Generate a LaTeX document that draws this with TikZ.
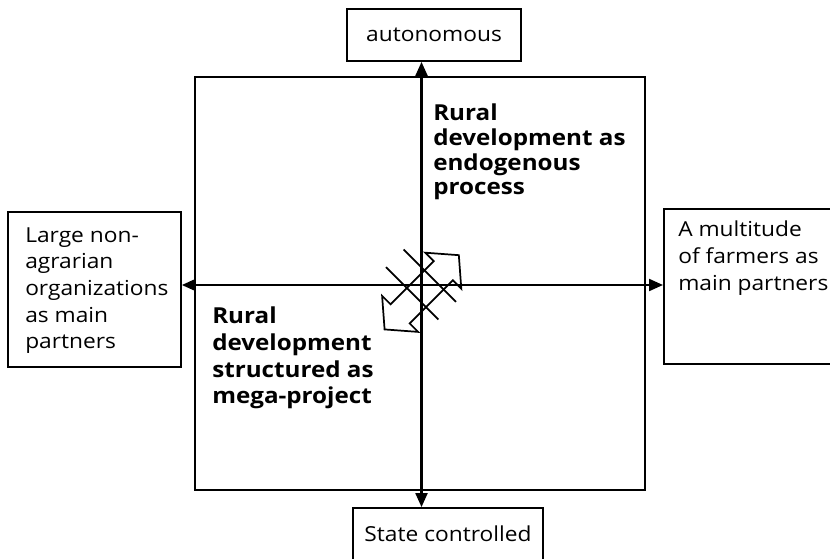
\documentclass[tikz,border=0pt]{standalone}
\usepackage{fontspec}
\setmainfont{Open Sans}[FakeStretch=1.1]
\usetikzlibrary{arrows.meta}

\begin{document}
\begin{tikzpicture}[x=0.75pt,y=0.75pt,yscale=-1,xscale=1,
  box/.style={draw,line width=1.4pt,inner sep=0pt},
  plain/.style={inner sep=0pt,anchor=north west,align=left,font=\fontsize{15.5}{20}\selectfont},
  strong/.style={inner sep=0pt,anchor=north west,align=left,font=\fontsize{16.5}{20}\selectfont\bfseries},
  axisline/.style={line width=1.6pt,{Triangle[length=10.5pt,width=9pt]}-{Triangle[length=10.5pt,width=9pt]}}]
\useasboundingbox (0,0) rectangle (830,559);
\clip (0,0) rectangle (830,559);

%Shape: Rectangle (quadrants)
\draw[line width=1.6pt] (195,77) rectangle (645,490);

% Box Nodes
\node[box,minimum width=130.5pt,minimum height=39pt,font=\fontsize{15.5}{20}\selectfont] (auto) at (434,35) {autonomous};
\node[box,minimum width=142.5pt,minimum height=39pt,font=\fontsize{15.5}{20}\selectfont] (state) at (448,534) {State controlled};
\node[box,anchor=north west,minimum width=129.75pt,minimum height=116.25pt] (orgs) at (7,211) {};
\node[box,anchor=north west,minimum width=165pt,minimum height=116.25pt] (farmers) at (663,208) {};
\coordinate (o) at (421.5,285);

%Straight Lines (axes)
\draw[axisline] (auto.south -| o) -- (state.north -| o);
\draw[axisline] (orgs.east |- o) -- (farmers.west |- o);

% Text Node
\node[plain] (orgstext) at (25,227) {Large non-\\agrarian\\organizations\\as main\\partners};
% Text Node
\node[plain] (farmerstext) at (678,221) {A multitude\\of farmers as\\main partners};
% Text Node
\node[strong,font=\fontsize{16.5}{18.5}\selectfont\bfseries] (endo) at (433,104) {Rural\\development as\\endogenous\\process};
% Text Node
\node[strong] (mega) at (212,307) {Rural\\development\\structured as\\mega-project};

%Shape: Double Arrow with cross bars
\begin{scope}[shift={(421.7,292.3)},rotate=-45,line width=1.3pt]
\draw (52.5,0) -- (30.5,-25.5) -- (30.5,-13.5) -- (-30.5,-13.5) -- (-30.5,-25.5) -- (-52.5,0)
  -- (-30.5,25.5) -- (-30.5,13.5) -- (30.5,13.5) -- (30.5,25.5) -- cycle;
\draw (17.5,-43) -- (17.5,31);
\draw (-7.5,-43) -- (-7.5,31);
\end{scope}

\end{tikzpicture}
\end{document}
